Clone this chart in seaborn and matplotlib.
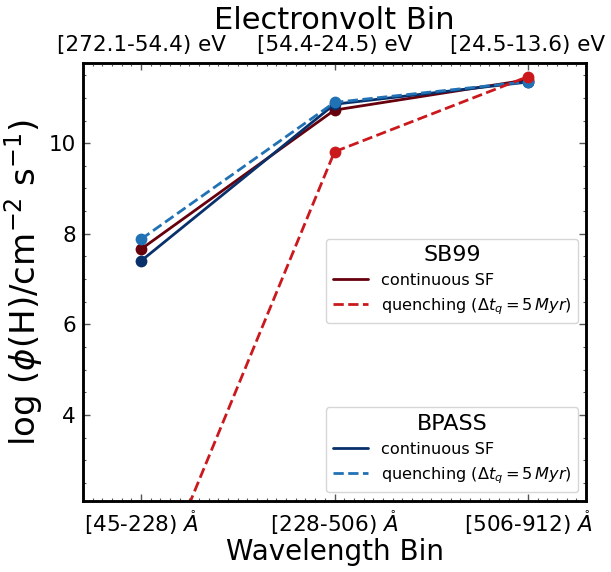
import matplotlib
matplotlib.use("Agg")
import matplotlib.pyplot as plt
from matplotlib.lines import Line2D
from matplotlib.ticker import MultipleLocator, FixedLocator
import seaborn as sns
import pandas as pd

# Wavelength / energy bins
bin_index = [0, 1, 2]
wavelength_labels = [r"[45-228) $\mathring{A}$", r"[228-506) $\mathring{A}$", r"[506-912) $\mathring{A}$"]
energy_labels = ["[272.1-54.4) eV", "[54.4-24.5) eV", "[24.5-13.6) eV"]

# log ionising photon flux per bin
sb99_continuous = [7.66, 10.73, 11.40]
sb99_quenching = [-0.55, 9.81, 11.47]
bpass_continuous = [7.40, 10.86, 11.35]
bpass_quenching = [7.88, 10.90, 11.36]

quench_label = r"quenching ($\Delta t_q = 5\,Myr$)"

sns.set_style("ticks")
plt.rcParams["font.family"] = ["DejaVu Sans"]
plt.rcParams["mathtext.fontset"] = "dejavusans"
plt.rcParams["text.color"] = "black"
plt.rcParams["axes.labelcolor"] = "black"

fig = plt.figure(figsize=(6.11, 5.72), dpi=100)
ax = fig.add_axes([83 / 611, 71 / 572, 503 / 611, 438 / 572])

series = [
    ("SB99", "continuous SF", sb99_continuous, "#67000d", "-"),
    ("BPASS", "continuous SF", bpass_continuous, "#08306b", "-"),
    ("BPASS", quench_label, bpass_quenching, "#2171b5", "--"),
    ("SB99", quench_label, sb99_quenching, "#cb181d", "--"),
]

handles = {"SB99": [], "BPASS": []}
for model, label, values, color, ls in series:
    df = pd.DataFrame({"bin": bin_index, "logphi": values})
    sns.lineplot(data=df, x="bin", y="logphi", ax=ax, color=color, linestyle=ls,
                 linewidth=2.0, marker="o", markersize=8.5, markeredgewidth=0,
                 legend=False)
    handles[model].append(Line2D([], [], color=color, linestyle=ls, linewidth=2.0, label=label))

# keep legend entries in the order continuous, quenching
for model in handles:
    handles[model].sort(key=lambda h: 0 if h.get_label().startswith("continuous") else 1)

ax.set_xlim(-0.3, 2.3)
ax.set_ylim(2.1, 11.77)

ax.xaxis.set_major_locator(FixedLocator(bin_index))
ax.set_xticklabels(wavelength_labels)
ax.xaxis.set_minor_locator(MultipleLocator(0.05))
ax.yaxis.set_major_locator(MultipleLocator(2))
ax.yaxis.set_minor_locator(MultipleLocator(0.5))

ax.tick_params(which="both", direction="in", top=True, right=True,
               color="#555555", labelcolor="black")
ax.tick_params(which="major", length=5, width=1, labelsize=15.5, pad=5)
ax.tick_params(which="minor", length=2.3, width=0.8)
for sp in ax.spines.values():
    sp.set_linewidth(1.8)
    sp.set_color("black")

ax.set_xlabel("Wavelength Bin", fontsize=20, labelpad=1)
ax.set_ylabel(r"log ($\phi$(H)/cm$^{-2}$ s$^{-1}$)", fontsize=24.5, labelpad=3)

# top axis with the matching photon-energy bins
top = ax.twiny()
top.set_xlim(ax.get_xlim())
top.xaxis.set_major_locator(FixedLocator(bin_index))
top.set_xticklabels(energy_labels)
top.xaxis.set_minor_locator(MultipleLocator(0.05))
top.tick_params(which="both", direction="in", color="#555555", labelcolor="black")
top.tick_params(which="major", length=5, width=1, labelsize=15.5, pad=6)
top.tick_params(which="minor", length=2.3, width=0.8)
top.set_xlabel("Electronvolt Bin", fontsize=22, labelpad=4)
for sp in top.spines.values():
    sp.set_linewidth(1.8)
    sp.set_color("black")

leg_sb = ax.legend(handles=handles["SB99"], title="SB99", loc="lower right",
                   bbox_to_anchor=(0.984, 0.406), borderaxespad=0, fontsize=11.6,
                   title_fontsize=16, handlelength=2.2)
ax.add_artist(leg_sb)
ax.legend(handles=handles["BPASS"], title="BPASS", loc="lower right",
          bbox_to_anchor=(0.984, 0.0205), borderaxespad=0, fontsize=11.6,
          title_fontsize=16, handlelength=2.2)

fig.savefig("out.png", dpi=100)
